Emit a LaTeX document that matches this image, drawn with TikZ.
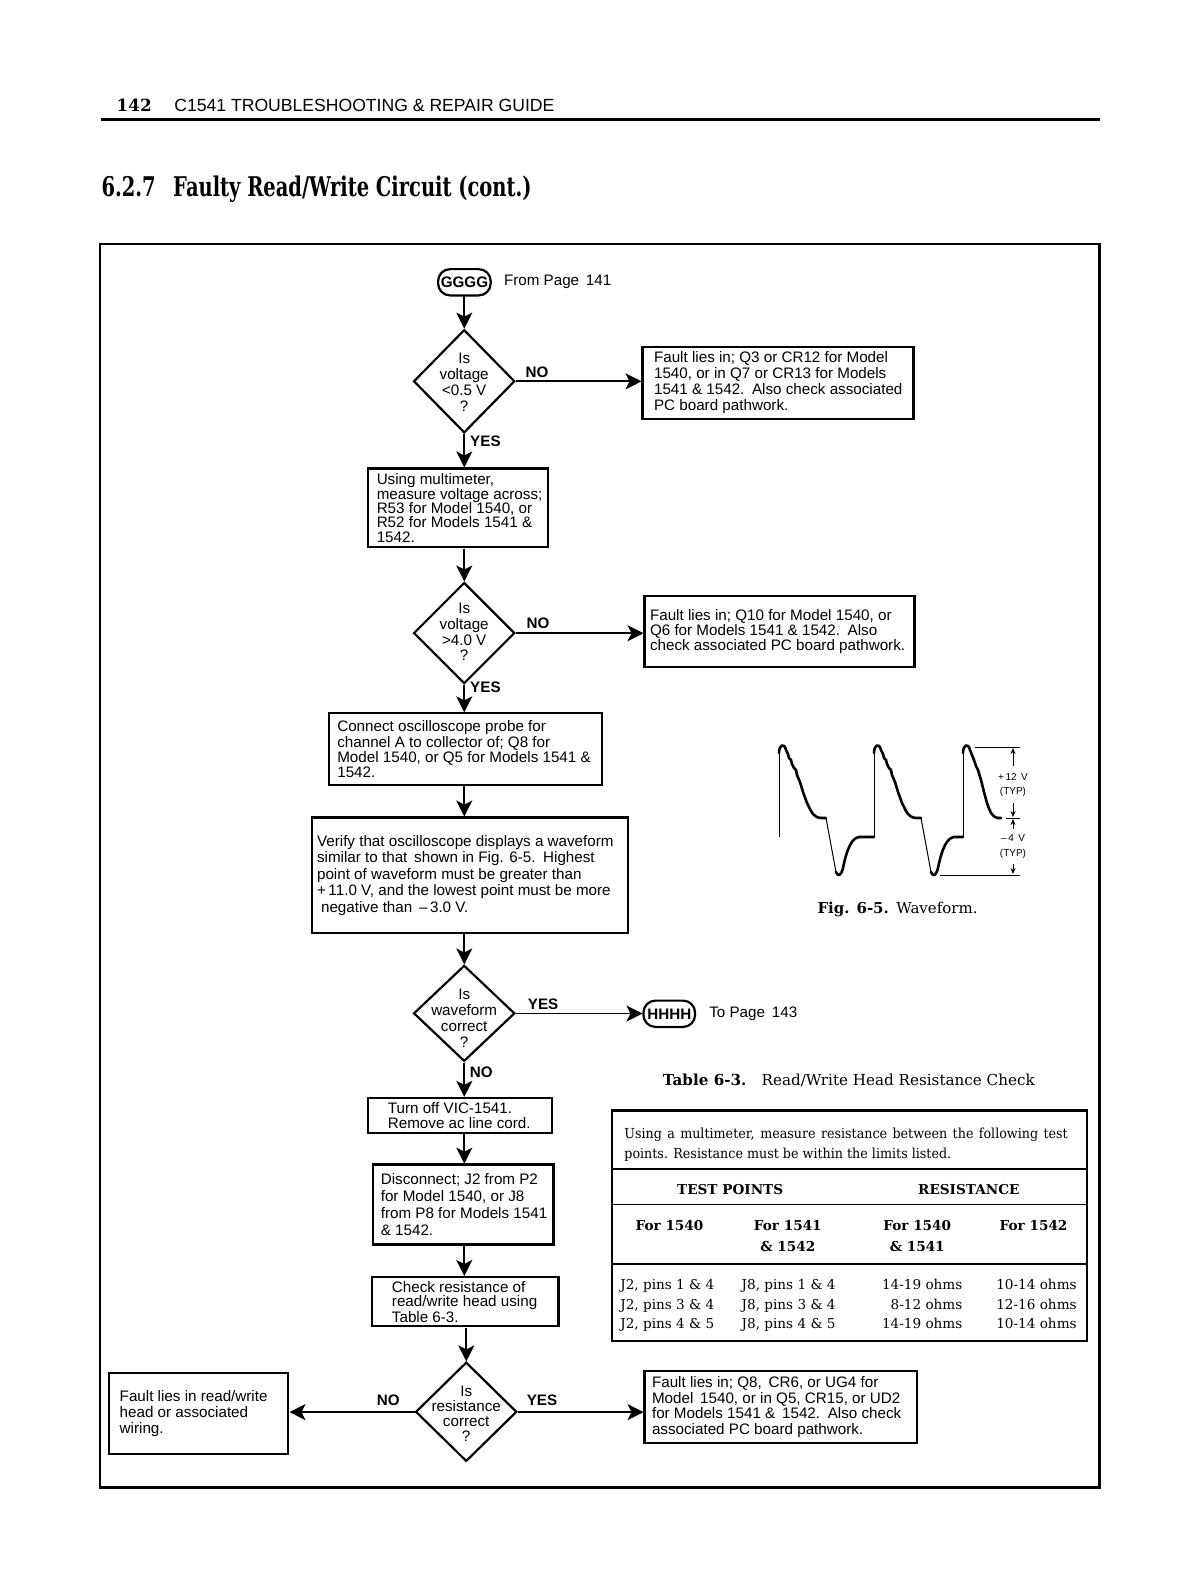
\documentclass[tikz,border=0pt]{standalone}
\usepackage{fontspec}
\usepackage{graphicx}
\usetikzlibrary{shapes.geometric,arrows.meta,fit}
\newfontfamily\hel{Liberation Sans}
\newfontfamily\souv{DejaVu Serif}
\newcommand\hf[1]{\hel\fontsize{7.6}{#1}\selectfont}
\newcommand\tabf{\souv\fontsize{6.8}{8}\selectfont}
\newcommand\tabi{\souv\fontsize{6.9}{8}\selectfont}
\tikzset{
  box/.style={draw, line width=1.1pt, inner sep=0pt},
  txt/.style={inner sep=0pt, align=left},
  ctxt/.style={inner sep=0pt, align=center},
  dia/.style={draw, diamond, line width=1.1pt, inner sep=0pt},
  term/.style={draw, line width=1.1pt, inner sep=0pt, rounded corners=6pt},
  conn/.style={line width=0.9pt, -{Stealth[length=8pt,width=8pt,inset=2pt]}},
  lbl/.style={font=\hel\bfseries\fontsize{7.6}{8}\selectfont, inner sep=0pt},
  tt/.style={font=\tabf, inner sep=0pt},
  ti/.style={font=\tabi, inner sep=0pt},
  tb/.style={font=\tabf\bfseries, inner sep=0pt, align=center},
  wthick/.style={line width=1.3pt, line join=round, line cap=round},
  wthin/.style={line width=0.5pt},
  dim/.style={line width=0.5pt},
  dimarrow/.style={line width=0.5pt, -{Stealth[length=3pt,width=2.5pt]}},
  small/.style={font=\hel\fontsize{5}{6}\selectfont, inner sep=0pt}
}
\newcommand\flowbox[8]{%
  \coordinate (#1-nw) at (#2,#3);
  \coordinate (#1-se) at (#4,#5);
  \node[box, fit=(#1-nw)(#1-se)] (#1) {};
  \node[txt, anchor=west, font=\hf{#7}] (#1-t) at ([xshift=#6*0.5pt]#1.west) {#8};
}
% one wave period: rise at #1, flat continues to #2
\newcommand\waveperiod[2]{%
  \draw[wthin] (#1,837) -- (#1,753);
  \draw[wthick] (#1,753) .. controls (#1,745) and (#1+5,742) .. (#1+7,750) -- (#1+9,754) -- (#1+10,758) -- (#1+12,760) -- (#1+13,764) -- (#1+15,768) -- (#1+17,770) -- (#1+18,775) -- (#1+21,782) -- (#1+24,792) -- (#1+28,803) -- (#1+32,811) .. controls (#1+35,816) and (#1+38,818) .. (#1+43,818) -- (#1+47,818);
  \draw[wthin] (#1+47,818) -- (#1+57,872);
  \draw[wthick] (#1+57,872) .. controls (#1+59,877) and (#1+62,876) .. (#1+64,868) .. controls (#1+68,848) and (#1+73,838) .. (#1+80,837) -- (#2,837);
}
\begin{document}
\begin{tikzpicture}[x=0.5pt,y=-0.5pt]
\fill[white] (0,0) rectangle (1200,1586);
\useasboundingbox (0,0) rectangle (1200,1586);

\begin{scope}[scale=1.0113]
% header
\node[inner sep=0pt, anchor=base west] (pg) at (115,110) {\resizebox{17.5pt}{!}{\souv\bfseries 142}};
\node[inner sep=0pt, anchor=base west] (hd) at (172,110) {\resizebox{190pt}{!}{\hel C1541 TROUBLESHOOTING \& REPAIR GUIDE}};
\draw[line width=1.5pt] (100,118) -- (1088,118);
\node[inner sep=0pt, anchor=base west] (title) at (100,194) {\resizebox{215pt}{10.3pt}{\souv\bfseries 6.2.7\hspace{0.9em}Faulty Read/Write Circuit (cont.)}};

% outer frame
\draw[line width=1.2pt] (99,241) rectangle (1087,1471);

% terminal GGGG
\coordinate (g-nw) at (433,266); \coordinate (g-se) at (485,292);
\node[term, fit=(g-nw)(g-se)] (g) {};
\node[lbl] (g-t) at (g.center) {GGGG};
\node[inner sep=0pt, anchor=west, font=\hf{8pt}] (gfrom) at (498,279) {From Page\, 141};

% decision 1
\node[dia, minimum width=50.6pt, minimum height=51.6pt] (d1) at (459,377) {};
\node[ctxt, font=\hf{8pt}] (d1-t) at (459,378) {Is\\voltage\\<0.5 V\\?};
\flowbox{no1}{635}{343}{903}{414}{12}{8pt}{Fault lies in; Q3 or CR12 for Model\\1540, or in Q7 or CR13 for Models\\1541 \& 1542.\enspace Also check associated\\PC board pathwork.}

\flowbox{b2}{364}{463}{542}{541}{9}{7.2pt}{Using multimeter,\\measure voltage across;\\R53 for Model 1540, or\\R52 for Models 1541 \&\\1542.}

% decision 2
\node[dia, minimum width=50.6pt, minimum height=50.6pt] (d2) at (459,626) {};
\node[ctxt, font=\hf{7.8pt}] (d2-t) at (459,625) {Is\\voltage\\>4.0 V\\?};
\flowbox{no2}{637}{589}{904}{659}{6}{7.6pt}{Fault lies in; Q10 for Model 1540, or\\Q6 for Models 1541 \& 1542.\enspace Also\\check associated PC board pathwork.}

\flowbox{b3}{325}{705}{595}{776}{9}{7.6pt}{Connect oscilloscope probe for\\channel A to collector of; Q8 for\\Model 1540, or Q5 for Models 1541 \&\\1542.}

\flowbox{b4}{308}{808}{621}{922}{6}{8.3pt}{Verify that oscilloscope displays a waveform\\similar to that\, shown in Fig. 6-5.\enspace Highest\\point of waveform must be greater than\\+\,11.0 V, and the lowest point must be more\\\hspace*{2pt}negative than\, –\,3.0 V.}

% decision 3
\node[dia, minimum width=50.6pt, minimum height=48pt] (d3) at (459,1002) {};
\node[ctxt, font=\hf{7.9pt}] (d3-t) at (459,1007) {Is\\waveform\\correct\\?};

% terminal HHHH
\coordinate (h-nw) at (636,989); \coordinate (h-se) at (687,1015);
\node[term, fit=(h-nw)(h-se)] (h) {};
\node[lbl] (h-t) at (h.center) {HHHH};
\node[inner sep=0pt, anchor=west, font=\hf{8pt}] (hto) at (701,1002) {To Page\, 143};

\flowbox{b5}{364}{1085}{546}{1120}{20}{7.6pt}{Turn off VIC-1541.\\Remove ac line cord.}
\flowbox{b6}{369}{1151}{547}{1230}{8}{8.4pt}{Disconnect; J2 from P2\\for Model 1540, or J8\\from P8 for Models 1541\\\& 1542.}
\flowbox{b7}{368}{1262}{552}{1311}{20}{6.8pt}{Check resistance of\\read/write head using\\Table 6-3.}

% decision 4
\node[dia, minimum width=50.6pt, minimum height=49.6pt] (d4) at (461,1396) {};
\node[ctxt, font=\hf{7.5pt}] (d4-t) at (461,1398) {Is\\resistance\\correct\\?};
\flowbox{bl}{108}{1357}{285}{1437}{11}{8pt}{Fault lies in read/write\\head or associated\\wiring.}
\flowbox{br}{637}{1355}{906}{1426}{8}{7.9pt}{Fault lies in; Q8,\, CR6, or UG4 for\\Model\, 1540, or in Q5, CR15, or UD2\\for Models 1541 \&\, 1542.\enspace Also check\\associated PC board pathwork.}

% connectors
\draw[conn] (g.south) -- (g.south -| d1.north) -- (d1.north);
\draw[conn] (d1.east) -- (d1.east -| no1.west);
\draw[conn] (d1.south) -- (d1.south |- b2.north);
\draw[conn] (b2.south -| d2.north) -- (d2.north);
\draw[conn] (d2.east) -- (d2.east -| no2.west);
\draw[conn] (d2.south) -- (d2.south |- b3.north);
\draw[conn] (b3.south -| d3.north) -- (b4.north -| d3.north);
\draw[conn] (b4.south -| d3.north) -- (d3.north);
\draw[conn] (d3.east) -- (d3.east -| h.west);
\draw[conn] (d3.south) -- (d3.south |- b5.north);
\draw[conn] (b5.south -| d3.south) -- (b6.north -| d3.south);
\draw[conn] (b6.south -| d3.south) -- (b7.north -| d3.south);
\draw[conn] (b7.south -| d4.north) -- (d4.north);
\draw[conn] (d4.west) -- (d4.west -| bl.east);
\draw[conn] (d4.east) -- (d4.east -| br.west);

% connector labels
\node[lbl] (l1) at (531,368) {NO};
\node[lbl] (l2) at (480,436) {YES};
\node[lbl] (l3) at (532,616) {NO};
\node[lbl] (l4) at (480,680) {YES};
\node[lbl] (l5) at (537,993) {YES};
\node[lbl] (l6) at (476,1060) {NO};
\node[lbl] (l7) at (384,1385) {NO};
\node[lbl] (l8) at (536,1385) {YES};

% figure caption
\node[inner sep=0pt, anchor=base west] (figcap) at (808,903) {\resizebox{80pt}{!}{\souv\textbf{Fig. 6-5.}\hspace{0.5em}Waveform.}};

% table
\node[inner sep=0pt, anchor=base west] (tabcap) at (655,1073) {\resizebox{186pt}{!}{\souv\textbf{Table 6-3.}\hspace{1em}Read/Write Head Resistance Check}};
\draw[line width=1.2pt] (605,1098) rectangle (1075,1326);
\draw[line width=1pt] (605,1156) -- (1075,1156);
\draw[line width=0.8pt] (605,1191) -- (1075,1191);
\draw[line width=0.8pt] (605,1250) -- (1075,1250);
\node[ti, anchor=base west] (tl1) at (617,1126) {\scalebox{0.92}[1]{\makebox[241pt][s]{Using a multimeter, measure resistance between the following test}}};
\node[ti, anchor=base west] (tl2) at (617,1146) {\scalebox{0.92}[1]{points. Resistance must be within the limits listed.}};
\node[tb, anchor=base] (th1) at (722,1181) {TEST POINTS};
\node[tb, anchor=base] (th2) at (958,1181) {RESISTANCE};
\node[tb, anchor=base] (c1) at (662,1217) {For 1540};
\node[tb, anchor=base] (c2a) at (779,1217) {For 1541};
\node[tb, anchor=base] (c2b) at (779,1237) {\& 1542};
\node[tb, anchor=base] (c3a) at (907,1217) {For 1540};
\node[tb, anchor=base] (c3b) at (907,1237) {\& 1541};
\node[tb, anchor=base] (c4) at (1022,1217) {For 1542};
\node[tt, anchor=base west] (r1a) at (613,1275) {J2, pins 1 \& 4};
\node[tt, anchor=base west] (r2a) at (613,1295) {J2, pins 3 \& 4};
\node[tt, anchor=base west] (r3a) at (613,1314) {J2, pins 4 \& 5};
\node[tt, anchor=base west] (r1b) at (733,1275) {J8, pins 1 \& 4};
\node[tt, anchor=base west] (r2b) at (733,1295) {J8, pins 3 \& 4};
\node[tt, anchor=base west] (r3b) at (733,1314) {J8, pins 4 \& 5};
\node[tt, anchor=base east] (r1c) at (952,1275) {14-19 ohms};
\node[tt, anchor=base east] (r2c) at (952,1295) {8-12 ohms};
\node[tt, anchor=base east] (r3c) at (952,1314) {14-19 ohms};
\node[tt, anchor=base east] (r1d) at (1065,1275) {10-14 ohms};
\node[tt, anchor=base east] (r2d) at (1065,1295) {12-16 ohms};
\node[tt, anchor=base east] (r3d) at (1065,1314) {10-14 ohms};
\end{scope}

% waveform figure (true pixel coordinates)
\draw[wthin] (779,835) -- (779,837);
\waveperiod{779}{874}
\waveperiod{874}{963}
\draw[wthin] (963,837) -- (963,753);
\draw[wthick] (963,753) .. controls (963,745) and (968,742) .. (970,750) -- (972,755) -- (974,760) -- (976,766) -- (978,770) -- (981,780) -- (984,792) -- (987,803) .. controls (990,812) and (993,818) .. (998,818) -- (1001,818);
\draw[dim] (975,747) -- (1020,747);
\draw[dim] (940,875) -- (1020,875);
\draw[dim] (1006,818) -- (1020,818);
\draw[dimarrow] (1013,766) -- (1013,748);
\draw[dimarrow] (1013,803) -- (1013,817);
\draw[dimarrow] (1013,829) -- (1013,819);
\draw[dimarrow] (1013,864) -- (1013,874);
\node[small] (v1) at (1013,777) {+\,12\, V};
\node[small] (v2) at (1013,792) {(TYP)};
\node[small] (v3) at (1013,838) {–\,4\, V};
\node[small] (v4) at (1013,854) {(TYP)};
\end{tikzpicture}
\end{document}
